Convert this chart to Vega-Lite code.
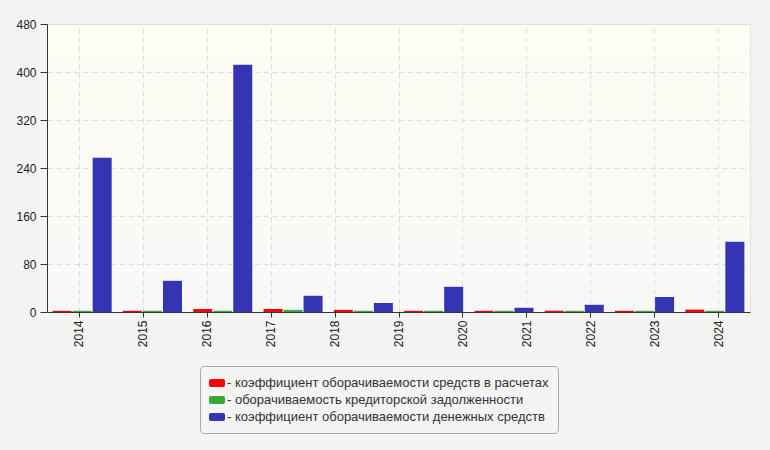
{
  "$schema": "https://vega.github.io/schema/vega-lite/v6.json",
  "width": 703,
  "height": 288,
  "autosize": {"type": "none"},
  "padding": {"left": 47, "top": 24, "right": 20, "bottom": 138},
  "background": "#f4f4f4",
  "datasets": {
    "years": [
      {"year": "2014"}, {"year": "2015"}, {"year": "2016"}, {"year": "2017"},
      {"year": "2018"}, {"year": "2019"}, {"year": "2020"}, {"year": "2021"},
      {"year": "2022"}, {"year": "2023"}, {"year": "2024"}
    ],
    "bars": [
      {"n": 1, "series": "коэффициент оборачиваемости средств в расчетах", "value": 2},
      {"n": 1, "series": "оборачиваемость кредиторской задолженности", "value": 2},
      {"n": 1, "series": "коэффициент оборачиваемости денежных средств", "value": 257},
      {"n": 2, "series": "коэффициент оборачиваемости средств в расчетах", "value": 2},
      {"n": 2, "series": "оборачиваемость кредиторской задолженности", "value": 2},
      {"n": 2, "series": "коэффициент оборачиваемости денежных средств", "value": 52},
      {"n": 3, "series": "коэффициент оборачиваемости средств в расчетах", "value": 5},
      {"n": 3, "series": "оборачиваемость кредиторской задолженности", "value": 2},
      {"n": 3, "series": "коэффициент оборачиваемости денежных средств", "value": 412},
      {"n": 4, "series": "коэффициент оборачиваемости средств в расчетах", "value": 5},
      {"n": 4, "series": "оборачиваемость кредиторской задолженности", "value": 3.5},
      {"n": 4, "series": "коэффициент оборачиваемости денежных средств", "value": 27},
      {"n": 5, "series": "коэффициент оборачиваемости средств в расчетах", "value": 3.5},
      {"n": 5, "series": "оборачиваемость кредиторской задолженности", "value": 2},
      {"n": 5, "series": "коэффициент оборачиваемости денежных средств", "value": 15},
      {"n": 6, "series": "коэффициент оборачиваемости средств в расчетах", "value": 2},
      {"n": 6, "series": "оборачиваемость кредиторской задолженности", "value": 2},
      {"n": 6, "series": "коэффициент оборачиваемости денежных средств", "value": 42},
      {"n": 7, "series": "коэффициент оборачиваемости средств в расчетах", "value": 2},
      {"n": 7, "series": "оборачиваемость кредиторской задолженности", "value": 2},
      {"n": 7, "series": "коэффициент оборачиваемости денежных средств", "value": 7},
      {"n": 8, "series": "коэффициент оборачиваемости средств в расчетах", "value": 2},
      {"n": 8, "series": "оборачиваемость кредиторской задолженности", "value": 2},
      {"n": 8, "series": "коэффициент оборачиваемости денежных средств", "value": 12},
      {"n": 9, "series": "коэффициент оборачиваемости средств в расчетах", "value": 2},
      {"n": 9, "series": "оборачиваемость кредиторской задолженности", "value": 2},
      {"n": 9, "series": "коэффициент оборачиваемости денежных средств", "value": 25},
      {"n": 10, "series": "коэффициент оборачиваемости средств в расчетах", "value": 4},
      {"n": 10, "series": "оборачиваемость кредиторской задолженности", "value": 2},
      {"n": 10, "series": "коэффициент оборачиваемости денежных средств", "value": 117}
    ]
  },
  "config": {
    "font": "Liberation Sans",
    "view": {
      "stroke": "#e2e2e2",
      "fill": {
        "gradient": "linear",
        "x1": 0, "y1": 0, "x2": 0, "y2": 1,
        "stops": [
          {"offset": 0, "color": "#fdfdf3"},
          {"offset": 1, "color": "#f8f8f8"}
        ]
      }
    },
    "axis": {
      "domainColor": "#333333",
      "tickColor": "#333333",
      "tickSize": 6,
      "labelFont": "Liberation Sans",
      "labelFontSize": 12,
      "labelColor": "#222222",
      "gridColor": "#dddddd",
      "gridDash": [5, 4],
      "title": null
    }
  },
  "layer": [
    {
      "data": {"name": "years"},
      "mark": {"type": "point", "opacity": 0},
      "encoding": {
        "x": {
          "field": "year",
          "type": "ordinal",
          "scale": {"paddingInner": 0, "paddingOuter": 0},
          "axis": {
            "labelAngle": 270,
            "labelAlign": "right",
            "labelBaseline": "middle",
            "labelPadding": 3,
            "tickSize": 5,
            "grid": true
          }
        }
      }
    },
    {
      "data": {"name": "bars"},
      "mark": {"type": "bar"},
      "encoding": {
        "x": {
          "field": "n",
          "type": "ordinal",
          "scale": {"paddingInner": 0.16, "paddingOuter": 0.08},
          "axis": null
        },
        "xOffset": {
          "field": "series",
          "type": "nominal",
          "scale": {
            "domain": [
              "коэффициент оборачиваемости средств в расчетах",
              "оборачиваемость кредиторской задолженности",
              "коэффициент оборачиваемости денежных средств"
            ],
            "paddingInner": 0.05
          }
        },
        "y": {
          "field": "value",
          "type": "quantitative",
          "scale": {"domain": [0, 480], "nice": false},
          "axis": {
            "values": [0, 80, 160, 240, 320, 400, 480],
            "grid": true,
            "tickSize": 7,
            "labelPadding": 4
          }
        },
        "color": {
          "field": "series",
          "type": "nominal",
          "scale": {
            "domain": [
              "коэффициент оборачиваемости средств в расчетах",
              "оборачиваемость кредиторской задолженности",
              "коэффициент оборачиваемости денежных средств"
            ],
            "range": ["#ff0000", "#38a838", "#3535b4"]
          },
          "legend": {
            "title": null,
            "orient": "none",
            "legendX": 153,
            "legendY": 342,
            "direction": "vertical",
            "padding": 9,
            "fillColor": "#f4f4f4",
            "strokeColor": "#a8a8a8",
            "cornerRadius": 4,
            "rowPadding": 2,
            "symbolType": "M-0.75,-0.5H0.75A0.25,0.25 0 0 1 1,-0.25V0.25A0.25,0.25 0 0 1 0.75,0.5H-0.75A0.25,0.25 0 0 1 -1,0.25V-0.25A0.25,0.25 0 0 1 -0.75,-0.5Z",
            "symbolSize": 256,
            "symbolStrokeWidth": 0,
            "symbolOpacity": 1,
            "labelFont": "Liberation Sans",
            "labelFontSize": 13,
            "labelColor": "#333333",
            "labelOffset": 2,
            "labelLimit": 400,
            "labelExpr": "'- ' + datum.label"
          }
        }
      }
    }
  ],
  "resolve": {"scale": {"x": "independent"}}
}
